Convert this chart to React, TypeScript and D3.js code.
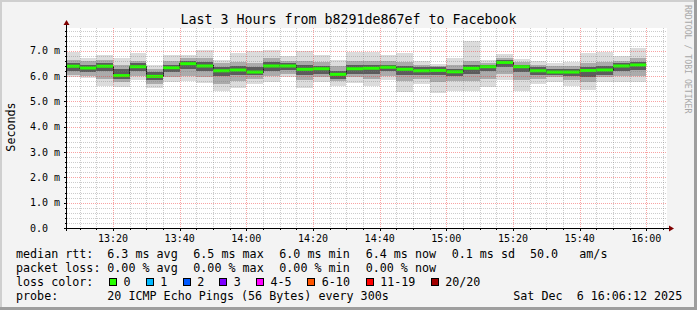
import React from "react";
import * as d3 from "d3";

// ---- data ----
const blockStarts = [
  "13:05","13:10","13:15","13:20","13:25","13:30","13:35","13:40","13:45","13:50",
  "13:55","14:00","14:05","14:10","14:15","14:20","14:25","14:30","14:35","14:40",
  "14:45","14:50","14:55","15:00","15:05","15:10","15:15","15:20","15:25","15:30",
  "15:35","15:40","15:45","15:50","15:55",
];
const medianMs = [
  6.39,6.32,6.39,6.02,6.37,5.99,6.33,6.49,6.40,6.21,
  6.24,6.16,6.40,6.40,6.27,6.29,6.07,6.29,6.31,6.35,
  6.27,6.21,6.22,6.17,6.31,6.37,6.54,6.37,6.21,6.16,
  6.16,6.22,6.24,6.40,6.44,
];
const smokeMin = [
  5.95,5.91,5.62,5.58,5.85,5.52,5.78,5.82,5.72,5.41,
  5.52,5.68,5.78,5.95,5.54,5.75,5.62,5.72,5.61,5.85,
  5.38,5.69,5.34,5.42,5.42,5.58,5.85,5.41,5.68,5.78,
  5.61,5.45,5.78,5.78,5.78,
];
const smokeMax = [
  6.94,6.73,6.83,6.73,6.90,6.45,6.83,6.83,7.03,6.64,
  6.90,6.99,7.03,6.79,7.00,6.83,6.64,6.94,6.96,6.83,
  6.92,6.59,6.48,6.70,7.39,6.63,6.86,6.67,6.59,6.50,
  6.57,6.92,6.96,6.79,7.12,
];
const midLo = [
  6.05,6.00,5.90,5.75,6.00,5.70,5.95,6.00,5.95,5.70,
  5.80,5.90,6.00,6.10,5.85,5.95,5.80,5.95,5.90,6.00,
  5.80,5.90,5.75,5.80,5.80,5.90,6.10,5.85,5.90,5.95,
  5.85,5.75,5.95,6.00,6.00,
];
const midHi = [
  6.65,6.60,6.65,6.45,6.60,6.30,6.60,6.70,6.70,6.50,
  6.55,6.50,6.70,6.60,6.60,6.55,6.40,6.60,6.60,6.60,
  6.55,6.45,6.40,6.45,6.60,6.50,6.70,6.55,6.45,6.40,
  6.40,6.50,6.55,6.60,6.70,
];
const coreLo = [
  6.20,6.15,6.20,5.90,6.20,5.85,6.15,6.30,6.20,6.00,
  6.05,6.05,6.20,6.25,6.05,6.10,5.90,6.10,6.10,6.20,
  6.05,6.05,6.05,6.00,6.10,6.20,6.35,6.15,6.05,6.05,
  6.00,5.95,6.05,6.20,6.25,
];
const coreHi = [
  6.50,6.45,6.50,6.30,6.50,6.15,6.45,6.60,6.55,6.35,
  6.40,6.35,6.55,6.50,6.45,6.40,6.20,6.45,6.45,6.45,
  6.40,6.35,6.35,6.30,6.45,6.45,6.62,6.45,6.35,6.30,
  6.30,6.35,6.40,6.50,6.55,
];
const yTickValues = [0, 1, 2, 3, 4, 5, 6, 7];
const yTickLabels = ["0.0", "1.0 m", "2.0 m", "3.0 m", "4.0 m", "5.0 m", "6.0 m", "7.0 m"];

const lossLabels = ["0", "1", "2", "3", "4-5", "6-10", "11-19", "20/20"];
const lossColors = ["#26ff00", "#00b8ff", "#0059ff", "#7e00ff", "#ff00ff", "#ff5500", "#ff0000", "#a10000"];

// ---- layout ----
const W = 697, H = 310;
const PX0 = 67, PX1 = 667, PY0 = 28, PY1 = 228;
const FONT = "'DejaVu Sans Mono', monospace";

const base = (hm: string) => {
  const [h, m] = hm.split(":").map(Number);
  return new Date(2025, 11, 6, h, m, 0);
};
const tStart = new Date(2025, 11, 6, 13, 6, 12);
const tEnd = new Date(2025, 11, 6, 16, 6, 12);

export default function App() {
  const x = d3.scaleTime().domain([tStart, tEnd]).range([PX0, PX1]);
  const y = d3.scaleLinear().domain([0, 7.9]).range([PY1, PY0]);

  const starts = blockStarts.map(base);
  const ends = starts.map((d) => d3.timeMinute.offset(d, 5));

  const minorY = d3.range(1, 40).map((i) => i * 0.2).filter((v) => Math.abs(v - Math.round(v)) > 1e-6);
  const majorY = yTickValues.filter((v) => v > 0);
  const fiveMin = d3.timeMinute.every(5)!.range(tStart, tEnd);
  const majorX = fiveMin.filter((d) => d.getMinutes() % 20 === 0);
  const minorX = fiveMin.filter((d) => d.getMinutes() % 20 !== 0);
  const fmt = d3.timeFormat("%H:%M");

  const band = (lo: number[], hi: number[], color: string, key: string) =>
    starts.map((s, i) => (
      <rect
        key={key + i}
        x={x(s)}
        width={x(ends[i]) - x(s)}
        y={y(hi[i])}
        height={y(lo[i]) - y(hi[i])}
        fill={color}
      />
    ));

  const stepPts: [number, number][] = starts.map((s, i) => [x(s), y(medianMs[i])]);
  stepPts.push([x(ends[ends.length - 1]), y(medianMs[medianMs.length - 1])]);
  const stepLine = d3.line().curve(d3.curveStepAfter)(stepPts) || "";

  const legRowY = [258, 272, 286, 300];
  const statX = [107.3, 193.3, 279.3, 365.7];
  const swatchX = [109, 145.7, 182.7, 219.3, 256, 307.3, 365.7, 430.7];

  return (
    <svg width={W} height={H} style={{ display: "block", position: "absolute", left: 0, top: 0 }} fontFamily={FONT}>
      <defs>
        <clipPath id="plotclip">
          <rect x={PX0} y={PY0} width={PX1 - PX0} height={PY1 - PY0} />
        </clipPath>
      </defs>
      {/* background with bevel */}
      <rect x={0} y={0} width={W} height={H} fill="#f3f3f3" />
      <rect x={0} y={0} width={W} height={2} fill="#cfcfcf" />
      <rect x={0} y={0} width={2} height={H} fill="#cfcfcf" />
      <rect x={0} y={H - 3} width={W} height={3} fill="#9e9e9e" />
      <rect x={W - 3} y={0} width={3} height={H} fill="#9e9e9e" />

      {/* canvas */}
      <rect x={PX0} y={PY0} width={PX1 - PX0} height={PY1 - PY0} fill="#ffffff" />

      {/* smoke */}
      <g clipPath="url(#plotclip)" shapeRendering="crispEdges">
        {band(smokeMin, smokeMax, "#dcdcdc", "o")}
        {band(midLo, midHi, "#ababab", "m")}
        {band(coreLo, coreHi, "#5c5c5c", "c")}
      </g>

      {/* median */}
      <g clipPath="url(#plotclip)">
        <path d={stepLine} fill="none" stroke="#202020" strokeWidth={1} shapeRendering="crispEdges" />
        {starts.map((s, i) => (
          <line
            key={"g" + i}
            x1={x(s)}
            x2={x(ends[i])}
            y1={y(medianMs[i])}
            y2={y(medianMs[i])}
            stroke={lossColors[0]}
            strokeWidth={3}
          />
        ))}
      </g>

      {/* grid */}
      <g shapeRendering="crispEdges" strokeDasharray="1 1">
        {minorY.map((v) => (
          <line key={"my" + v} x1={PX0} x2={PX1} y1={Math.round(y(v)) + 0.5} y2={Math.round(y(v)) + 0.5} stroke="rgba(120,120,120,0.38)" />
        ))}
        {minorX.map((d) => (
          <line key={"mx" + +d} x1={Math.round(x(d)) + 0.5} x2={Math.round(x(d)) + 0.5} y1={PY0} y2={PY1} stroke="rgba(120,120,120,0.38)" />
        ))}
        {majorY.map((v) => (
          <line key={"My" + v} x1={PX0} x2={PX1} y1={Math.round(y(v)) + 0.5} y2={Math.round(y(v)) + 0.5} stroke="rgba(240,50,50,0.45)" />
        ))}
        {majorX.map((d) => (
          <line key={"Mx" + +d} x1={Math.round(x(d)) + 0.5} x2={Math.round(x(d)) + 0.5} y1={PY0} y2={PY1} stroke="rgba(240,50,50,0.45)" />
        ))}
      </g>

      {/* axes */}
      <g shapeRendering="crispEdges" stroke="#000">
        <line x1={PX0 - 3} x2={PX1 + 3} y1={PY1 + 0.5} y2={PY1 + 0.5} />
        <line x1={PX0 - 0.5} x2={PX0 - 0.5} y1={PY0 - 4} y2={PY1 + 3} />
        {majorY.concat([0]).map((v) => (
          <line key={"ty" + v} x1={PX0 - 3} x2={PX0} y1={Math.round(y(v)) + 0.5} y2={Math.round(y(v)) + 0.5} />
        ))}
        {minorY.map((v) => (
          <line key={"tmy" + v} x1={PX0 - 2} x2={PX0} y1={Math.round(y(v)) + 0.5} y2={Math.round(y(v)) + 0.5} />
        ))}
        {majorX.map((d) => (
          <line key={"tx" + +d} x1={Math.round(x(d)) + 0.5} x2={Math.round(x(d)) + 0.5} y1={PY1} y2={PY1 + 3} />
        ))}
        {minorX.map((d) => (
          <line key={"tmx" + +d} x1={Math.round(x(d)) + 0.5} x2={Math.round(x(d)) + 0.5} y1={PY1} y2={PY1 + 2} />
        ))}
      </g>
      <path d={`M${PX0 - 3.5},${PY0 - 3} L${PX0 + 2.5},${PY0 - 3} L${PX0 - 0.5},${PY0 - 8} Z`} fill="#7f0000" />
      <path d={`M${PX1 + 2},${PY1 - 2.5} L${PX1 + 2},${PY1 + 3.5} L${PX1 + 7},${PY1 + 0.5} Z`} fill="#7f0000" />

      {/* y labels */}
      {yTickValues.map((v, i) => (
        <text key={"yl" + v} x={30} y={y(v) + 3.5} fontSize={10} fill="#000">
          {yTickLabels[i]}
        </text>
      ))}
      {/* x labels */}
      {majorX.map((d) => (
        <text key={"xl" + +d} x={x(d)} y={242} fontSize={10} textAnchor="middle" fill="#000">
          {fmt(d)}
        </text>
      ))}

      {/* title */}
      <text x={W / 2} y={23.5} fontSize={13.3} textAnchor="middle" fill="#000">
        Last 3 Hours from b8291de867ef to Facebook
      </text>
      <text transform={`translate(14.5,127) rotate(-90)`} fontSize={11.7} textAnchor="middle" fill="#000">
        Seconds
      </text>
      <text transform={`translate(685,5) rotate(90)`} fontSize={8.2} fill="#a8a8a8">
        RRDTOOL / TOBI OETIKER
      </text>

      {/* legend */}
      <g fontSize={11.7} fill="#000" style={{ whiteSpace: "pre" }}>
        <text x={16} y={legRowY[0]}>median rtt:</text>
        <text x={statX[0]} y={legRowY[0]}>6.3 ms avg</text>
        <text x={statX[1]} y={legRowY[0]}>6.5 ms max</text>
        <text x={statX[2]} y={legRowY[0]}>6.0 ms min</text>
        <text x={statX[3]} y={legRowY[0]}>6.4 ms now</text>
        <text x={451.7} y={legRowY[0]}>0.1 ms sd</text>
        <text x={530} y={legRowY[0]}>50.0</text>
        <text x={579.3} y={legRowY[0]}>am/s</text>

        <text x={16} y={legRowY[1]}>packet loss:</text>
        <text x={statX[0]} y={legRowY[1]}>0.00 % avg</text>
        <text x={statX[1]} y={legRowY[1]}>0.00 % max</text>
        <text x={statX[2]} y={legRowY[1]}>0.00 % min</text>
        <text x={statX[3]} y={legRowY[1]}>0.00 % now</text>

        <text x={16} y={legRowY[2]}>loss color:</text>
        {lossLabels.map((l, i) => (
          <g key={"lc" + i}>
            <rect x={swatchX[i] + 0.5} y={278.5} width={7} height={7} fill={lossColors[i]} stroke="#000" strokeWidth={1} shapeRendering="crispEdges" />
            <text x={swatchX[i] + 14.5} y={legRowY[2]}>{l}</text>
          </g>
        ))}

        <text x={16} y={legRowY[3]}>probe:</text>
        <text x={107.3} y={legRowY[3]}>20 ICMP Echo Pings (56 Bytes) every 300s</text>
        <text x={513.3} y={legRowY[3]} xmlSpace="preserve">Sat Dec  6 16:06:12 2025</text>
      </g>
    </svg>
  );
}
